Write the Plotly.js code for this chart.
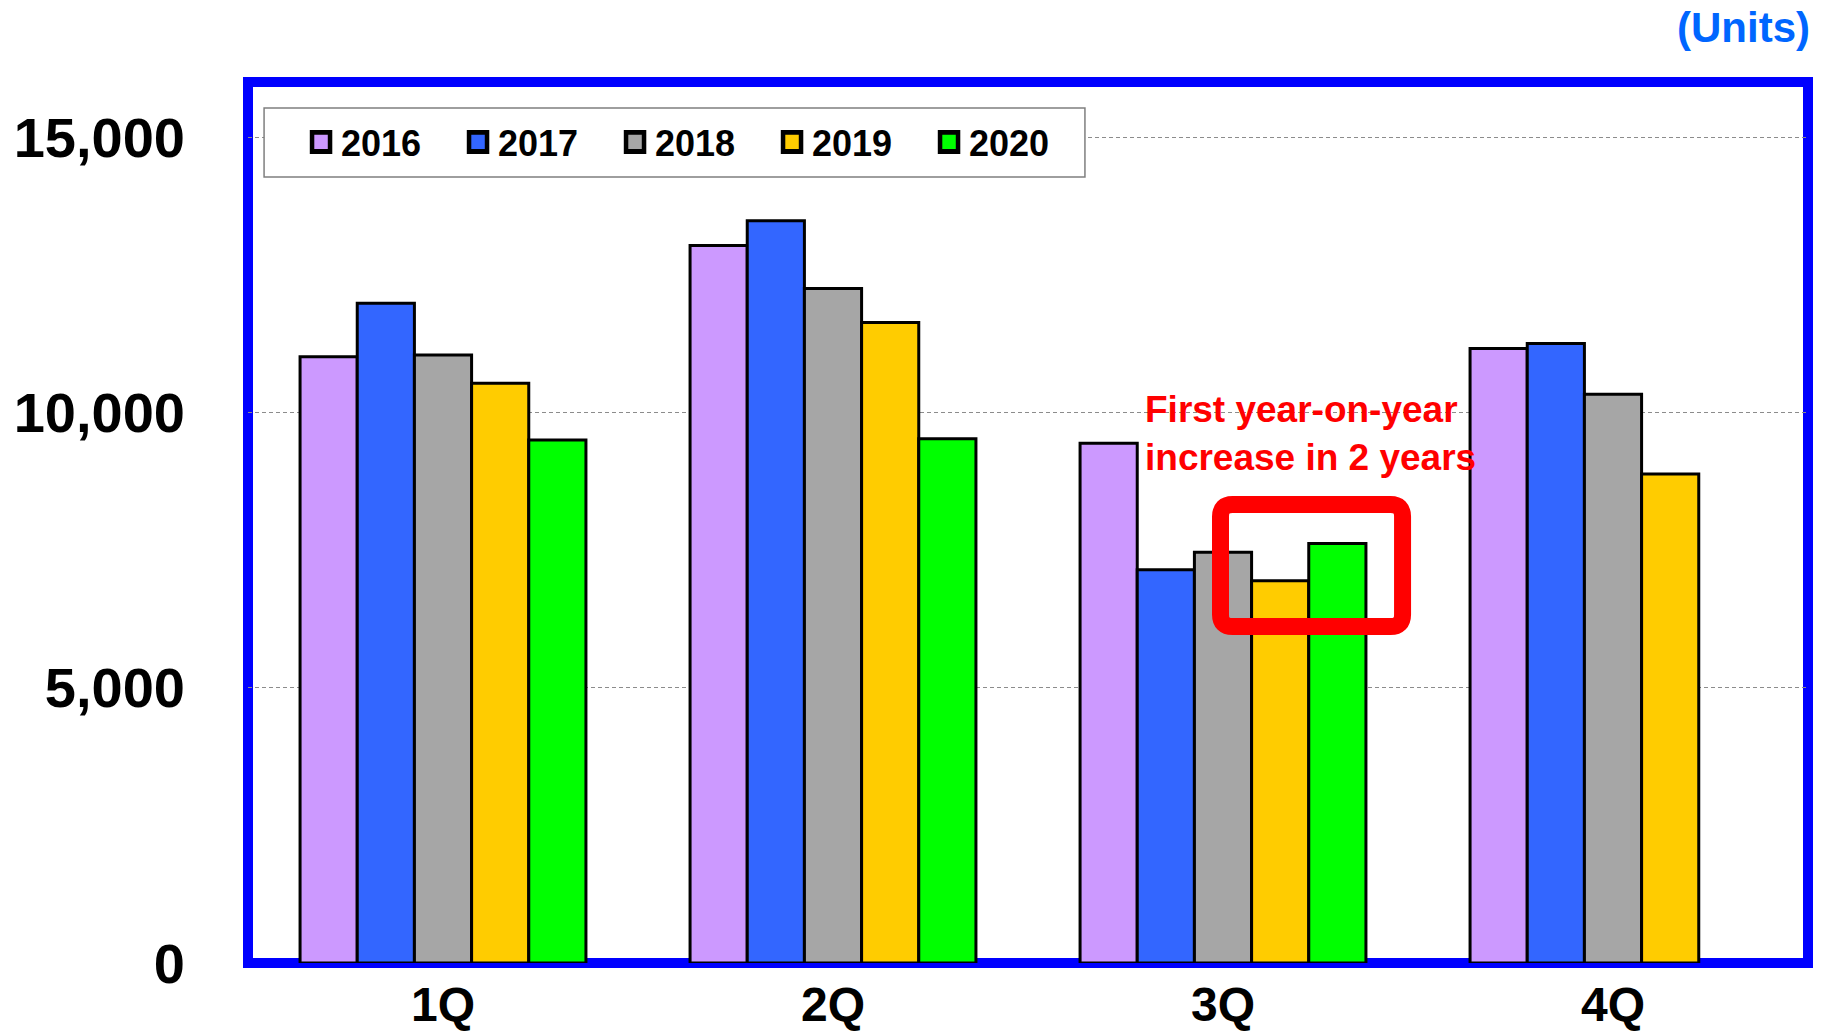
<!DOCTYPE html>
<html>
<head>
<meta charset="utf-8">
<script src="https://cdn.plot.ly/plotly-3.0.1.min.js"></script>
<style>
  html, body { margin: 0; padding: 0; background: #ffffff; }
  #chart { width: 1822px; height: 1033px; }
</style>
</head>
<body>
<div id="chart"></div>
<script>
// Quarterly unit sales by year
const quarters = ['1Q', '2Q', '3Q', '4Q'];
const years = ['2016', '2017', '2018', '2019', '2020'];
const units2016 = [11010, 13030, 9440, 11160];
const units2017 = [11980, 13480, 7140, 11250];
const units2018 = [11040, 12250, 7460, 10330];
const units2019 = [10530, 11630, 6940, 8880];
const units2020 = [9500, 9520, 7620, null];
const yTickValues = [0, 5000, 10000, 15000];
const yTickLabels = ['0', '5,000', '10,000', '15,000'];

const seriesValues = [units2016, units2017, units2018, units2019, units2020];
const seriesColors = ['#CC99FF', '#3366FF', '#A6A6A6', '#FFCC00', '#00FF00'];

const FONT = '"Liberation Sans", Arial, sans-serif';

const traces = years.map((yr, i) => ({
  type: 'bar',
  name: yr,
  x: quarters,
  y: seriesValues[i],
  marker: { color: seriesColors[i], line: { color: '#000000', width: 3 } },
  hoverinfo: 'x+y+name'
}));

// rounded highlight frame around the 3Q 2019/2020 bars
const bx0 = 0.6234, bx1 = 0.7401, by0 = 6111, by1 = 8327;
const rx = 0.0077, ry = 220;
const framePath =
  `M ${bx0 + rx},${by1} L ${bx1 - rx},${by1} Q ${bx1},${by1} ${bx1},${by1 - ry} ` +
  `L ${bx1},${by0 + ry} Q ${bx1},${by0} ${bx1 - rx},${by0} ` +
  `L ${bx0 + rx},${by0} Q ${bx0},${by0} ${bx0},${by0 + ry} ` +
  `L ${bx0},${by1 - ry} Q ${bx0},${by1} ${bx0 + rx},${by1} Z`;

const layout = {
  width: 1822,
  height: 1033,
  margin: { l: 248, r: 14, t: 82, b: 70, pad: 0 },
  paper_bgcolor: '#ffffff',
  plot_bgcolor: '#ffffff',
  barmode: 'group',
  bargap: 0.267,
  bargroupgap: 0,
  font: { family: FONT, color: '#000000' },
  xaxis: {
    type: 'category',
    showgrid: false,
    zeroline: false,
    showline: false,
    ticks: '',
    ticklabelstandoff: 9,
    tickfont: { family: FONT, size: 48, color: '#000000', weight: 'bold' }
  },
  yaxis: {
    range: [0, 16000],
    tickvals: yTickValues,
    ticktext: yTickLabels,
    showgrid: true,
    gridcolor: '#8c8c8c',
    gridwidth: 1,
    griddash: '4px,3px',
    zeroline: false,
    showline: false,
    ticks: '',
    ticklabelstandoff: 62,
    tickfont: { family: FONT, size: 56, color: '#000000', weight: 'bold' }
  },
  showlegend: true,
  legend: {
    orientation: 'h',
    x: 0.034,
    y: 0.9319,
    xanchor: 'left',
    yanchor: 'middle',
    bgcolor: 'rgba(0,0,0,0)',
    borderwidth: 0,
    entrywidth: 112,
    entrywidthmode: 'pixels',
    traceorder: 'normal',
    font: { family: FONT, size: 36, color: '#000000', weight: 'bold' }
  },
  shapes: [
    {
      type: 'rect', xref: 'paper', yref: 'paper',
      x0: 0, x1: 1, y0: 0, y1: 1,
      line: { color: '#0000FF', width: 10 },
      fillcolor: 'rgba(0,0,0,0)',
      layer: 'below'
    },
    // legend frame
    {
      type: 'rect', xref: 'paper', yref: 'paper',
      x0: 0.0103, x1: 0.5365, y0: 0.8922, y1: 0.9705,
      line: { color: '#7f7f7f', width: 1.5 },
      fillcolor: '#ffffff',
      layer: 'above'
    },
    {
      type: 'path', xref: 'paper', yref: 'y',
      path: framePath,
      line: { color: '#FF0000', width: 17 },
      fillcolor: 'rgba(0,0,0,0)',
      layer: 'above'
    }
  ],
  annotations: [
    {
      xref: 'paper', yref: 'y',
      x: 0.5737, y: 9610,
      xanchor: 'left', yanchor: 'middle', align: 'left',
      showarrow: false,
      text: 'First year-on-year<br>increase in 2 years',
      font: { family: FONT, size: 37, color: '#FF0000', weight: 'bold' }
    },
    {
      xref: 'paper', yref: 'paper',
      x: 1.0025, y: 1.0624,
      xanchor: 'right', yanchor: 'middle',
      showarrow: false,
      text: '(Units)',
      font: { family: FONT, size: 42, color: '#0066FF', weight: 'bold' }
    }
  ]
};

Plotly.newPlot('chart', traces, layout, { displayModeBar: false, staticPlot: true }).then(gd => {
  // enlarge the legend swatches, keeping their own placement
  gd.querySelectorAll('.legendpoints path').forEach(p => {
    const t = p.getAttribute('transform') || '';
    p.setAttribute('transform', (t + ' scale(1.5,1.6)').trim());
  });
});
</script>
</body>
</html>
